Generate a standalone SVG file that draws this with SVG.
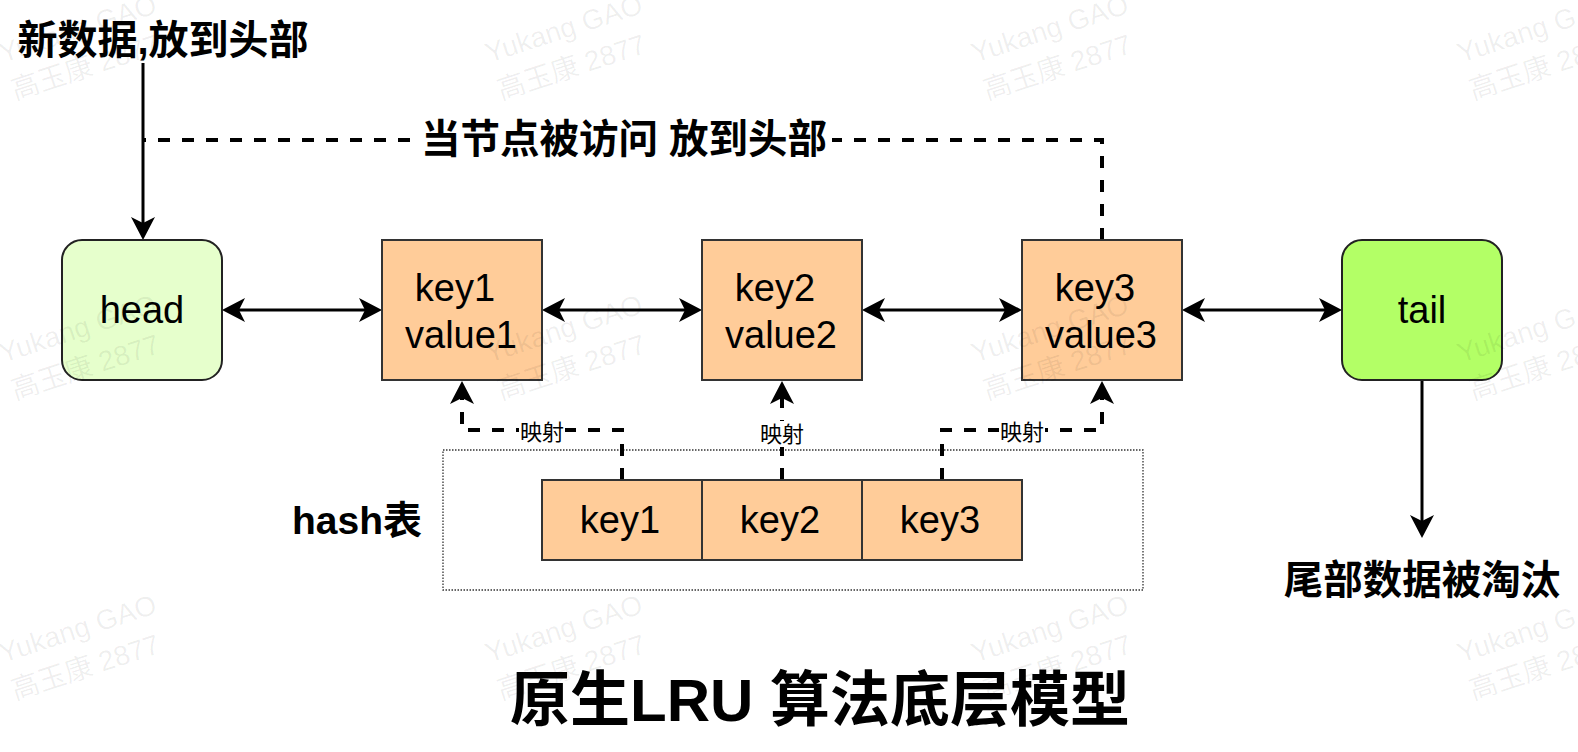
<svg xmlns="http://www.w3.org/2000/svg" xmlns:xlink="http://www.w3.org/1999/xlink" width="1578" height="752" viewBox="0 0 1578 752">
<style>
  .bold { font-family: "Liberation Sans", "Noto Sans CJK SC", sans-serif; font-weight: bold; fill: #000; }
  .node-t { font-family: "Liberation Sans", Arial, sans-serif; font-size: 38px; fill: #000; text-anchor: middle; }
  .small { font-family: "Noto Sans CJK SC", sans-serif; font-size: 22px; fill: #000; text-anchor: middle; }
  .kbox { fill: #FFCC99; stroke: #333; stroke-width: 2; }
  .solid { fill: none; stroke: #000; stroke-width: 3; }
  .dash { fill: none; stroke: #000; stroke-width: 4; stroke-dasharray: 12 12; }
  .wm { font-family: "Liberation Sans", "Noto Sans CJK SC", sans-serif; font-size: 28px; fill: #000; fill-opacity: 0.065; }
</style>
<defs>
  <marker id="ah" markerUnits="userSpaceOnUse" markerWidth="24" markerHeight="24" refX="6" refY="12" orient="auto-start-reverse" overflow="visible">
    <path d="M0,0 L23,12 L0,24 L6,12 Z" fill="#000"/>
  </marker>
  <g id="wmark">
    <text class="wm" x="0" y="0">Yukang GAO</text>
    <text class="wm" x="0" y="39">高玉康 2877</text>
  </g>
</defs>
<rect x="0" y="0" width="1578" height="752" fill="#ffffff"/>

<g id="hash-table">
  <rect x="443" y="450" width="700" height="140" fill="none" stroke="#333" stroke-width="1.3" stroke-dasharray="1.5 1.5"/>
</g>

<g id="connectors">
  <line class="solid" x1="143" y1="63" x2="143" y2="223" marker-end="url(#ah)"/>
  <line class="solid" x1="239" y1="310" x2="365" y2="310" marker-start="url(#ah)" marker-end="url(#ah)"/>
  <line class="solid" x1="559" y1="310" x2="685" y2="310" marker-start="url(#ah)" marker-end="url(#ah)"/>
  <line class="solid" x1="879" y1="310" x2="1005" y2="310" marker-start="url(#ah)" marker-end="url(#ah)"/>
  <line class="solid" x1="1199" y1="310" x2="1325" y2="310" marker-start="url(#ah)" marker-end="url(#ah)"/>
  <line class="solid" x1="1422" y1="380" x2="1422" y2="521" marker-end="url(#ah)"/>
  <path class="dash" d="M1102,240 V140 H143"/>
  <path class="dash" d="M622,480 V430 H462 V398" marker-end="url(#ah)"/>
  <path class="dash" d="M782,480 V398" marker-end="url(#ah)"/>
  <path class="dash" d="M942,480 V430 H1102 V398" marker-end="url(#ah)"/>
  <rect x="414" y="120" width="418" height="40" fill="#fff"/>
  <text class="bold" x="624" y="153" font-size="39.5" text-anchor="middle">当节点被访问 放到头部</text>
  <rect x="519" y="419" width="46" height="26" fill="#fff"/>
  <text class="small" x="542" y="440">映射</text>
  <rect x="759" y="421" width="46" height="26" fill="#fff"/>
  <text class="small" x="782" y="442">映射</text>
  <rect x="999" y="419" width="46" height="26" fill="#fff"/>
  <text class="small" x="1022" y="440">映射</text>
</g>

<g id="head">
  <rect x="62" y="240" width="160" height="140" rx="20" ry="20" fill="#E6FFCC" stroke="#222" stroke-width="2"/>
  <text class="node-t" x="142" y="323">head</text>
</g>
<g id="node1">
  <rect class="kbox" x="382" y="240" width="160" height="140"/>
  <text class="node-t" x="455" y="301">key1</text>
  <text class="node-t" x="461" y="348">value1</text>
</g>
<g id="node2">
  <rect class="kbox" x="702" y="240" width="160" height="140"/>
  <text class="node-t" x="775" y="301">key2</text>
  <text class="node-t" x="781" y="348">value2</text>
</g>
<g id="node3">
  <rect class="kbox" x="1022" y="240" width="160" height="140"/>
  <text class="node-t" x="1095" y="301">key3</text>
  <text class="node-t" x="1101" y="348">value3</text>
</g>
<g id="tail">
  <rect x="1342" y="240" width="160" height="140" rx="20" ry="20" fill="#B3FF66" stroke="#222" stroke-width="2"/>
  <text class="node-t" x="1422" y="323">tail</text>
</g>

<g id="hkey1">
  <rect class="kbox" x="542" y="480" width="160" height="80"/>
  <text class="node-t" x="620" y="533">key1</text>
</g>
<g id="hkey2">
  <rect class="kbox" x="702" y="480" width="160" height="80"/>
  <text class="node-t" x="780" y="533">key2</text>
</g>
<g id="hkey3">
  <rect class="kbox" x="862" y="480" width="160" height="80"/>
  <text class="node-t" x="940" y="533">key3</text>
</g>

<g id="labels">
  <text class="bold" x="163" y="54" font-size="40" text-anchor="middle">新数据,放到头部</text>
  <text class="bold" x="292" y="534" font-size="39">hash表</text>
  <text class="bold" x="1422" y="594" font-size="39.5" text-anchor="middle">尾部数据被淘汰</text>
  <text class="bold" x="820" y="721" font-size="60" text-anchor="middle">原生LRU 算法底层模型</text>
</g>

<g id="watermarks">
  <use xlink:href="#wmark" transform="translate(3,63) rotate(-18)"/>
  <use xlink:href="#wmark" transform="translate(489,63) rotate(-18)"/>
  <use xlink:href="#wmark" transform="translate(975,63) rotate(-18)"/>
  <use xlink:href="#wmark" transform="translate(1461,63) rotate(-18)"/>
  <use xlink:href="#wmark" transform="translate(3,363) rotate(-18)"/>
  <use xlink:href="#wmark" transform="translate(489,363) rotate(-18)"/>
  <use xlink:href="#wmark" transform="translate(975,363) rotate(-18)"/>
  <use xlink:href="#wmark" transform="translate(1461,363) rotate(-18)"/>
  <use xlink:href="#wmark" transform="translate(3,663) rotate(-18)"/>
  <use xlink:href="#wmark" transform="translate(489,663) rotate(-18)"/>
  <use xlink:href="#wmark" transform="translate(975,663) rotate(-18)"/>
  <use xlink:href="#wmark" transform="translate(1461,663) rotate(-18)"/>
</g>
</svg>
